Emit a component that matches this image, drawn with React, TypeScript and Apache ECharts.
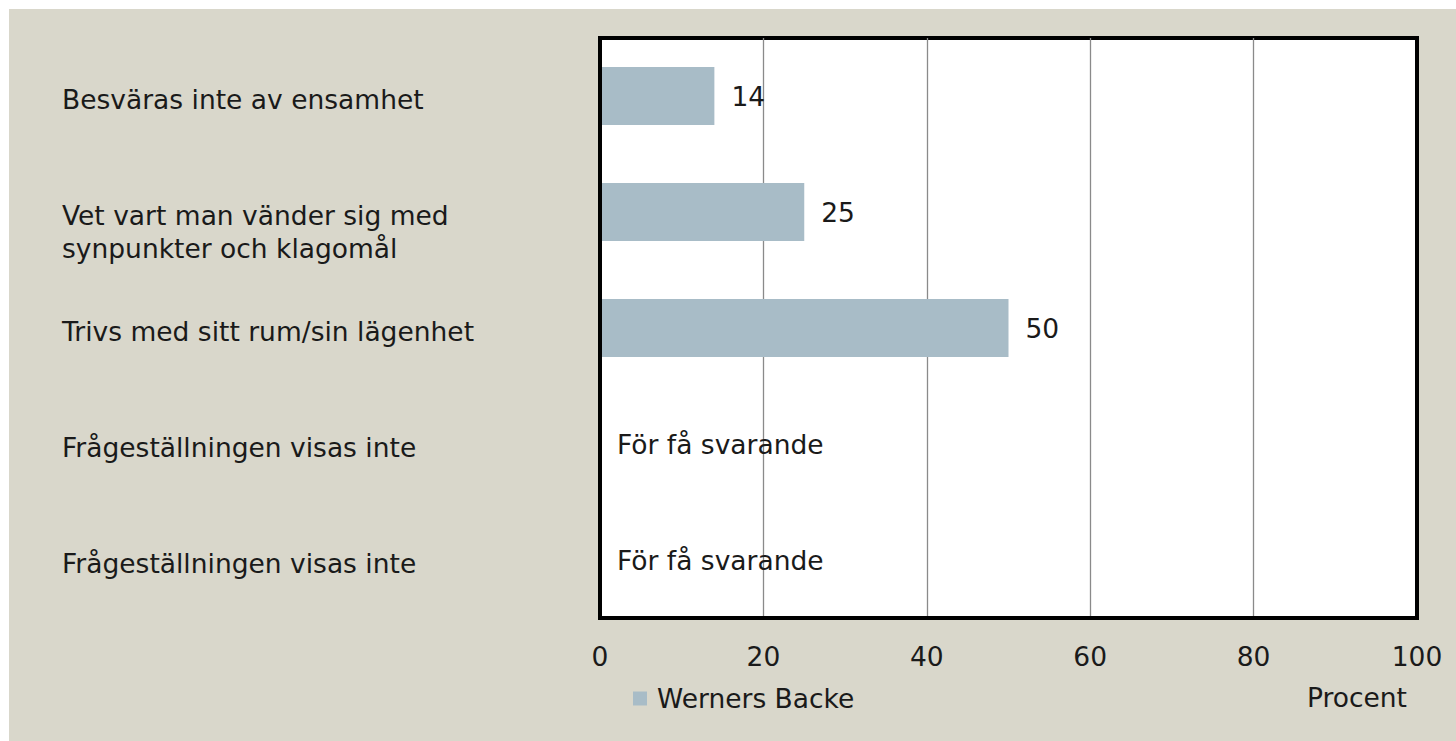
import React, { useEffect, useRef } from "react";
import * as echarts from "echarts";

const categories: string[] = [
  "Besväras inte av ensamhet",
  "Vet vart man vänder sig med\nsynpunkter och klagomål",
  "Trivs med sitt rum/sin lägenhet",
  "Frågeställningen visas inte",
  "Frågeställningen visas inte",
];
const values: (number | null)[] = [14, 25, 50, null, null];
const noDataText = "För få svarande";
const seriesName = "Werners Backe";
const axisName = "Procent";
const xTicks = { min: 0, max: 100, interval: 20 };

const FONT = "DejaVu Sans";
const TEXT = "#1a1a1a";
const FS = 26.5;
const LH = 33;

export default function App() {
  const ref = useRef<HTMLDivElement>(null);
  useEffect(() => {
    if (!ref.current) return;
    const chart = echarts.init(ref.current, undefined, { renderer: "svg" });
    const barData = values.map((v) =>
      v === null
        ? { value: 0, label: { formatter: noDataText } }
        : { value: v }
    );
    const catLabel = (v: string) => {
      const lines = v.split("\n");
      const spacer = lines.length > 1 ? "{q| }" : "{p| }";
      return [spacer, ...lines.map((l) => `{a|${l}}`)].join("\n");
    };
    chart.setOption({
      animation: false,
      backgroundColor: "#d9d7cb",
      textStyle: { fontFamily: FONT },
      grid: {
        left: 591,
        top: 29,
        right: 39,
        bottom: 123,
        containLabel: false,
        outerBoundsMode: "none",
        show: true,
        backgroundColor: "#ffffff",
        borderColor: "#000000",
        borderWidth: 4,
      },
      legend: {
        show: true,
        left: 624,
        top: 676,
        padding: 0,
        icon: "rect",
        itemWidth: 14,
        itemHeight: 14,
        textStyle: {
          fontFamily: FONT,
          fontSize: FS,
          color: TEXT,
          padding: [0, 0, 0, 5],
        },
        data: [seriesName],
      },
      xAxis: {
        type: "value",
        min: xTicks.min,
        max: xTicks.max,
        interval: xTicks.interval,
        name: axisName,
        nameLocation: "end",
        nameGap: -10,
        nameTextStyle: {
          fontFamily: FONT,
          fontSize: FS,
          color: TEXT,
          align: "right",
          verticalAlign: "top",
          padding: [66, 0, 0, 0],
        },
        axisLine: { show: true, lineStyle: { color: "#000", width: 4 } },
        axisTick: { show: false },
        axisLabel: {
          fontFamily: FONT,
          fontSize: FS,
          color: TEXT,
          margin: 25,
        },
        splitLine: {
          show: true,
          showMinLine: false,
          showMaxLine: false,
          lineStyle: { color: "#8a8a8a", width: 1.3 },
        },
      },
      yAxis: {
        type: "category",
        inverse: true,
        data: categories,
        z: 5,
        axisLine: { show: true, lineStyle: { color: "#000", width: 4 } },
        axisTick: { show: false },
        axisLabel: {
          fontFamily: FONT,
          fontSize: FS,
          color: TEXT,
          align: "left",
          margin: 538,
          interval: 0,
          formatter: catLabel,
          rich: {
            a: { fontFamily: FONT, fontSize: FS, color: TEXT, lineHeight: LH },
            p: { fontSize: 1, lineHeight: 7 },
            q: { fontSize: 1, lineHeight: 7 + LH },
          },
        },
        splitLine: { show: false },
      },
      series: [
        {
          name: seriesName,
          type: "bar",
          data: barData,
          barCategoryGap: "50%",
          itemStyle: { color: "#a8bcc7" },
          label: {
            show: true,
            position: "right",
            distance: 17,
            fontFamily: FONT,
            fontSize: FS,
            color: TEXT,
          },
        },
      ],
    });
    return () => chart.dispose();
  }, []);
  return (
    <div
      ref={ref}
      style={{ position: "fixed", left: 9, top: 9, width: 1447, height: 732 }}
    />
  );
}
